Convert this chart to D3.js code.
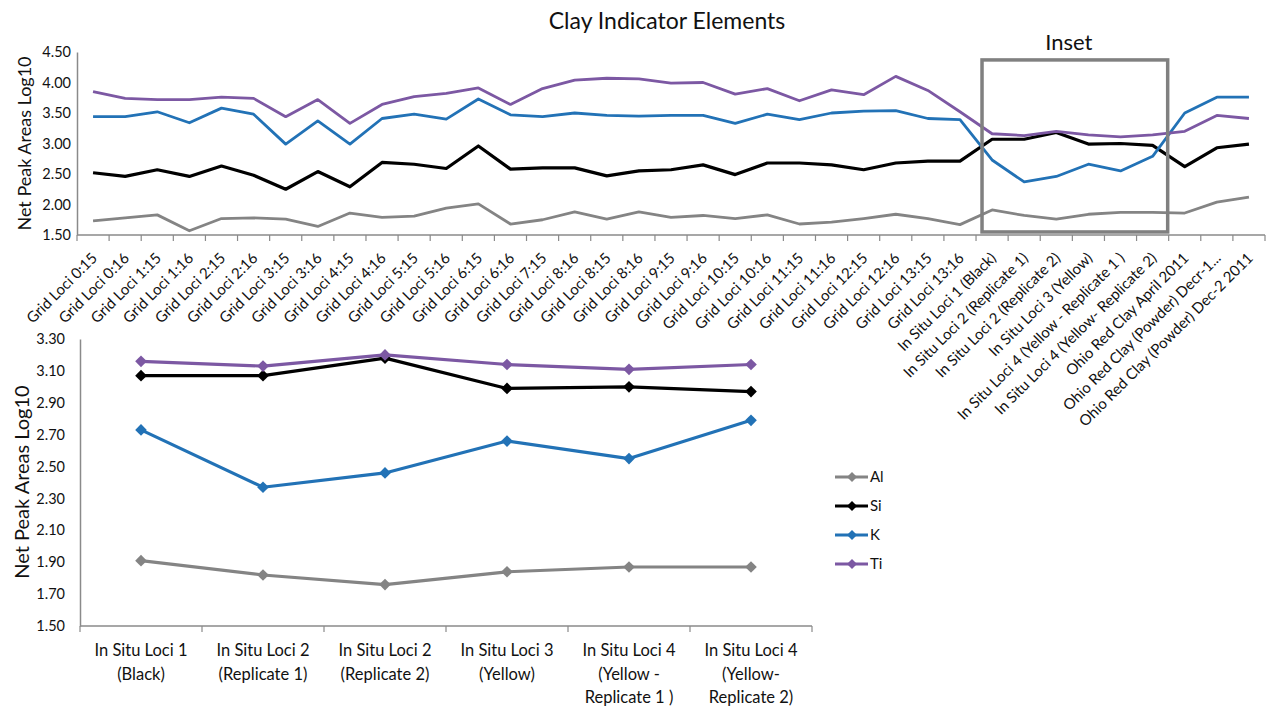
<!DOCTYPE html>
<html>
<head>
<meta charset="utf-8">
<script src="https://cdn.jsdelivr.net/npm/d3@7"></script>
<style>
  html, body { margin: 0; padding: 0; background: #fff; }
  svg { display: block; }
  text { font-family: Lato, "Open Sans", sans-serif; fill: #111; }
</style>
</head>
<body>
<svg id="chart" width="1268" height="709"></svg>
<script>
// Sample names along the full x axis
const categories = [
  "Grid Loci 0:15", "Grid Loci 0:16", "Grid Loci 1:15", "Grid Loci 1:16",
  "Grid Loci 2:15", "Grid Loci 2:16", "Grid Loci 3:15", "Grid Loci 3:16",
  "Grid Loci 4:15", "Grid Loci 4:16", "Grid Loci 5:15", "Grid Loci 5:16",
  "Grid Loci 6:15", "Grid Loci 6:16", "Grid Loci 7:15", "Grid Loci 8:16",
  "Grid Loci 8:15", "Grid Loci 8:16", "Grid Loci 9:15", "Grid Loci 9:16",
  "Grid Loci 10:15", "Grid Loci 10:16", "Grid Loci 11:15", "Grid Loci 11:16",
  "Grid Loci 12:15", "Grid Loci 12:16", "Grid Loci 13:15", "Grid Loci 13:16",
  "In Situ Loci 1 (Black)", "In Situ Loci 2 (Replicate 1)", "In Situ Loci 2 (Replicate 2)",
  "In Situ Loci 3 (Yellow)", "In Situ Loci 4 (Yellow - Replicate 1 )", "In Situ Loci 4 (Yellow- Replicate 2)",
  "Ohio Red Clay April 2011", "Ohio Red Clay (Powder) Decr-1...", "Ohio Red Clay (Powder) Dec-2 2011"
];

// Net peak areas (log10) per element
const al = [1.73, 1.78, 1.83, 1.57, 1.77, 1.78, 1.76, 1.64, 1.86, 1.79, 1.81, 1.94, 2.01, 1.68,
            1.75, 1.88, 1.76, 1.88, 1.79, 1.82, 1.77, 1.83, 1.68, 1.71, 1.77, 1.84, 1.77, 1.67,
            1.91, 1.82, 1.76, 1.84, 1.87, 1.87, 1.86, 2.04, 2.12];
const si = [2.52, 2.46, 2.57, 2.46, 2.63, 2.48, 2.25, 2.54, 2.29, 2.69, 2.66, 2.59, 2.96, 2.58,
            2.60, 2.60, 2.47, 2.55, 2.57, 2.65, 2.49, 2.68, 2.68, 2.65, 2.57, 2.68, 2.71, 2.71,
            3.07, 3.07, 3.18, 2.99, 3.00, 2.97, 2.62, 2.93, 2.99];
const k  = [3.44, 3.44, 3.52, 3.34, 3.58, 3.48, 2.99, 3.37, 2.99, 3.41, 3.48, 3.40, 3.73, 3.47,
            3.44, 3.50, 3.46, 3.45, 3.46, 3.46, 3.33, 3.48, 3.39, 3.50, 3.53, 3.54, 3.41, 3.39,
            2.73, 2.37, 2.46, 2.66, 2.55, 2.79, 3.50, 3.76, 3.76];
const ti = [3.85, 3.74, 3.72, 3.72, 3.76, 3.74, 3.44, 3.72, 3.33, 3.64, 3.77, 3.82, 3.91, 3.64,
            3.90, 4.04, 4.07, 4.06, 3.99, 4.00, 3.81, 3.90, 3.70, 3.88, 3.80, 4.10, 3.87, 3.52,
            3.16, 3.13, 3.20, 3.14, 3.11, 3.14, 3.20, 3.46, 3.41];

// Element names and their line colours
const elements = ["Al", "Si", "K", "Ti"];
const elementColors = ["#848484", "#000000", "#2272b6", "#7c58a3"];

// The in situ samples shown enlarged in the lower panel (indices into categories)
const insetStart = 28;
const insetEnd = 34;
const insetLabels = [
  ["In Situ Loci 1", "(Black)"],
  ["In Situ Loci 2", "(Replicate 1)"],
  ["In Situ Loci 2", "(Replicate 2)"],
  ["In Situ Loci 3", "(Yellow)"],
  ["In Situ Loci 4", "(Yellow -", "Replicate 1 )"],
  ["In Situ Loci 4", "(Yellow-", "Replicate 2)"]
];

// Axis ticks
const upperTicks = [1.5, 2.0, 2.5, 3.0, 3.5, 4.0, 4.5];
const lowerTicks = [1.5, 1.7, 1.9, 2.1, 2.3, 2.5, 2.7, 2.9, 3.1, 3.3];
// Value range outlined by the "Inset" box in the upper panel
const insetBoxRange = [1.55, 4.37];

const seriesValues = [al, si, k, ti];
const svg = d3.select("#chart");
const axisColor = "#8a8a8a";

// ---------- Upper panel: all samples ----------
// Band scale keyed by position, since some sample names repeat
const upper = { left: 77, right: 1265, top: 52, bottom: 235 };
const upperKeys = d3.range(categories.length);
const xUp = d3.scaleBand().domain(upperKeys).range([upper.left, upper.right]);
const yUp = d3.scaleLinear().domain([1.5, 4.5]).range([upper.bottom, upper.top]);
const cxUp = i => xUp(i) + xUp.bandwidth() / 2;

svg.append("text")
  .attr("x", 667).attr("y", 29)
  .attr("text-anchor", "middle")
  .style("font-size", "23px")
  .text("Clay Indicator Elements");

// y axis
const gyUp = svg.append("g").attr("transform", `translate(${upper.left},0)`)
  .call(d3.axisLeft(yUp).tickValues(upperTicks).tickFormat(d3.format(".2f")).tickSize(0).tickPadding(6));
gyUp.select(".domain").attr("stroke", axisColor).attr("stroke-width", 1.5);
gyUp.selectAll("text").style("font-size", "14.5px").style("font-family", "Lato, sans-serif");

svg.append("text")
  .attr("transform", `translate(25,${(upper.top + upper.bottom) / 2}) rotate(-90)`)
  .attr("text-anchor", "middle")
  .attr("dy", "0.35em")
  .style("font-size", "18px")
  .text("Net Peak Areas Log10");

// x axis line with ticks at category boundaries
const gxUp = svg.append("g").attr("transform", `translate(0,${upper.bottom})`);
gxUp.append("line")
  .attr("x1", upper.left).attr("x2", upper.right)
  .attr("stroke", axisColor).attr("stroke-width", 1.5);
const upperBoundaries = upperKeys.map(i => xUp(i)).concat([upper.right]);
gxUp.selectAll("line.tick").data(upperBoundaries).join("line")
  .attr("class", "tick")
  .attr("x1", d => d).attr("x2", d => d)
  .attr("y1", 0).attr("y2", 6)
  .attr("stroke", axisColor).attr("stroke-width", 1.2);

gxUp.selectAll("text.cat").data(categories).join("text")
  .attr("class", "cat")
  .attr("transform", (d, i) => `translate(${cxUp(i) + 5},${24}) rotate(-45)`)
  .attr("text-anchor", "end")
  .style("font-size", "15px")
  .text(d => d);

// series lines
const lineUp = d3.line()
  .x((d, i) => cxUp(i))
  .y(d => yUp(d));

seriesValues.forEach((vals, s) => {
  svg.append("path")
    .datum(vals)
    .attr("fill", "none")
    .attr("stroke", elementColors[s])
    .attr("stroke-width", s === 1 ? 3.2 : 2.8)
    .attr("stroke-linejoin", "round")
    .attr("d", lineUp);
});

// "Inset" box around the in situ samples
const boxX0 = xUp(insetStart) + 6;
const boxX1 = xUp(insetEnd - 1) + xUp.bandwidth() - 1;
svg.append("rect")
  .attr("x", boxX0).attr("y", yUp(insetBoxRange[1]))
  .attr("width", boxX1 - boxX0)
  .attr("height", yUp(insetBoxRange[0]) - yUp(insetBoxRange[1]))
  .attr("fill", "none")
  .attr("stroke", "#808080")
  .attr("stroke-width", 3.5);
svg.append("text")
  .attr("x", (boxX0 + boxX1) / 2 - 6).attr("y", 50)
  .attr("text-anchor", "middle")
  .style("font-size", "22px")
  .text("Inset");

// ---------- Lower panel: in situ samples ----------
const lower = { left: 80, right: 812, top: 339, bottom: 626 };
const lowerKeys = insetLabels.map((d, i) => i);
const xLow = d3.scaleBand().domain(lowerKeys).range([lower.left, lower.right]);
const yLow = d3.scaleLinear().domain([1.5, 3.3]).range([lower.bottom, lower.top]);
const cxLow = i => xLow(i) + xLow.bandwidth() / 2;

const gyLow = svg.append("g").attr("transform", `translate(${lower.left},0)`)
  .call(d3.axisLeft(yLow).tickValues(lowerTicks).tickFormat(d3.format(".2f")).tickSize(0).tickPadding(15));
gyLow.select(".domain").attr("stroke", axisColor).attr("stroke-width", 1.5);
gyLow.selectAll("text").style("font-size", "14.5px").style("font-family", "Lato, sans-serif");

svg.append("text")
  .attr("transform", `translate(22,482) rotate(-90)`)
  .attr("text-anchor", "middle")
  .attr("dy", "0.35em")
  .style("font-size", "20px")
  .text("Net Peak Areas Log10");

const gxLow = svg.append("g").attr("transform", `translate(0,${lower.bottom})`);
gxLow.append("line")
  .attr("x1", lower.left).attr("x2", lower.right)
  .attr("stroke", axisColor).attr("stroke-width", 1.5);
const lowerBoundaries = lowerKeys.map(i => xLow(i)).concat([lower.right]);
gxLow.selectAll("line.tick").data(lowerBoundaries).join("line")
  .attr("class", "tick")
  .attr("x1", d => d).attr("x2", d => d)
  .attr("y1", 0).attr("y2", 6)
  .attr("stroke", axisColor).attr("stroke-width", 1.2);

gxLow.selectAll("text.cat").data(insetLabels).join("text")
  .attr("class", "cat")
  .attr("text-anchor", "middle")
  .attr("x", (d, i) => cxLow(i))
  .attr("y", 30)
  .style("font-size", "16.5px")
  .selectAll("tspan").data(d => d).join("tspan")
  .attr("x", function () { return d3.select(this.parentNode).attr("x"); })
  .attr("dy", (d, j) => j === 0 ? 0 : 23.5)
  .text(d => d);

const lineLow = d3.line()
  .x((d, i) => cxLow(i))
  .y(d => yLow(d));
const diamond = d3.symbol().type(d3.symbolSquare).size(68);

seriesValues.forEach((vals, s) => {
  const sub = vals.slice(insetStart, insetEnd);
  svg.append("path")
    .datum(sub)
    .attr("fill", "none")
    .attr("stroke", elementColors[s])
    .attr("stroke-width", 3.2)
    .attr("stroke-linejoin", "round")
    .attr("d", lineLow);
  svg.append("g").selectAll("path").data(sub).join("path")
    .attr("transform", (d, i) => `translate(${cxLow(i)},${yLow(d)}) rotate(45)`)
    .attr("d", diamond)
    .attr("fill", elementColors[s]);
});

// legend
const legend = svg.append("g").attr("transform", "translate(835,477)");
elements.forEach((name, s) => {
  const row = legend.append("g").attr("transform", `translate(0,${s * 29})`);
  row.append("line").attr("x1", 0).attr("x2", 33)
    .attr("stroke", elementColors[s]).attr("stroke-width", 3.2);
  row.append("path").attr("transform", "translate(17,0) rotate(45)")
    .attr("d", d3.symbol().type(d3.symbolSquare).size(50))
    .attr("fill", elementColors[s]);
  row.append("text").attr("x", 35).attr("dy", "0.36em")
    .style("font-size", "15px")
    .text(name);
});
</script>
</body>
</html>
